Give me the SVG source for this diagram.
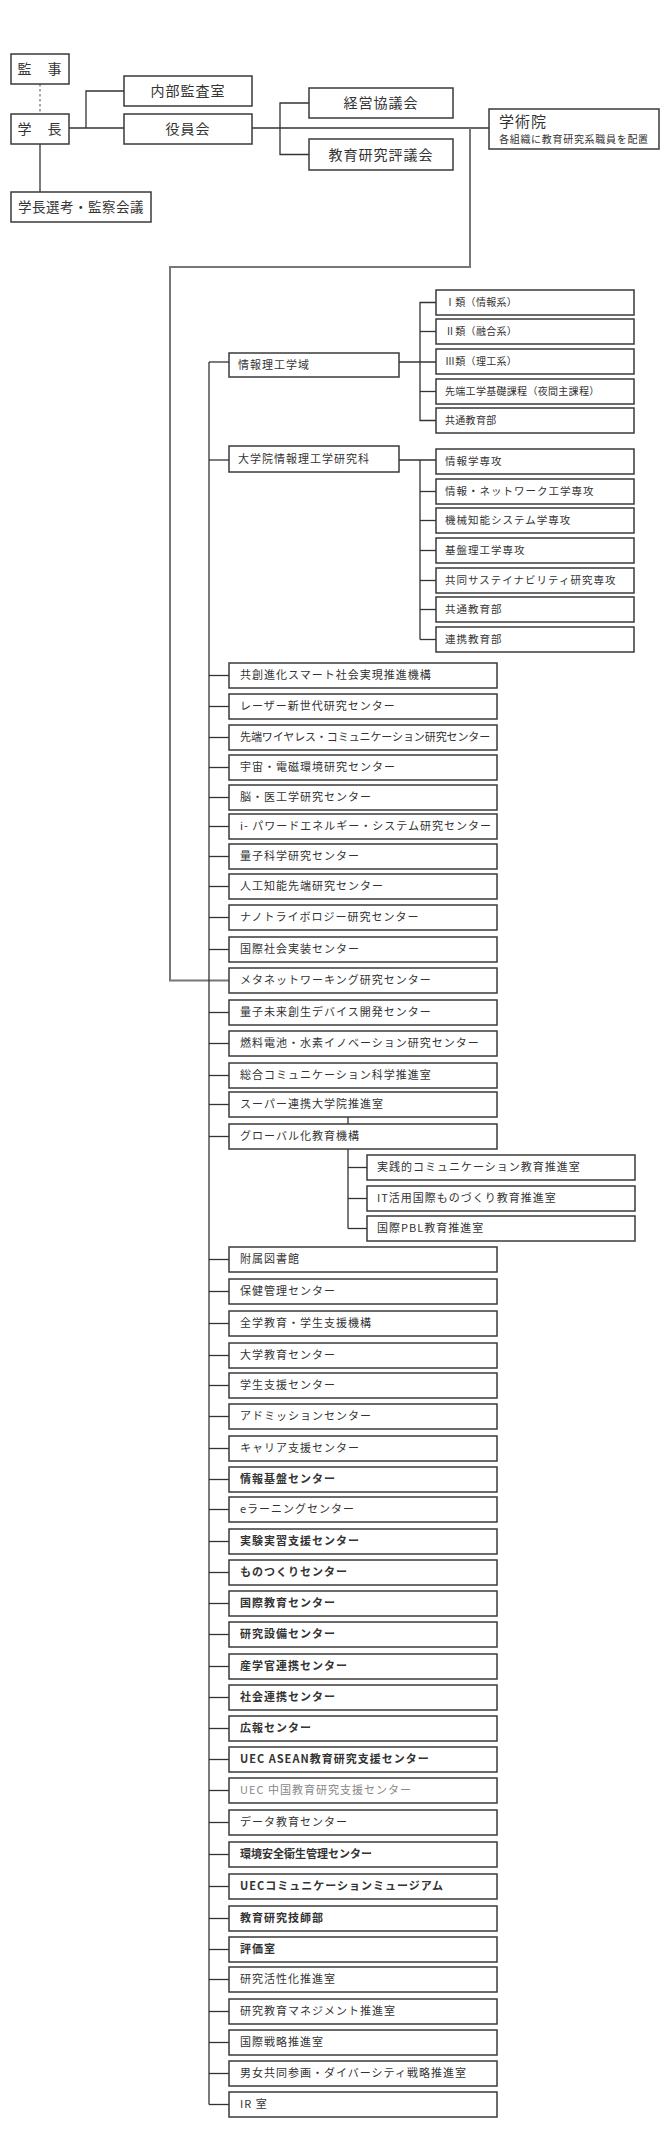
<svg xmlns="http://www.w3.org/2000/svg" width="670" height="2130" viewBox="0 0 670 2130">
<style>
rect.b{fill:#fff;stroke:#3a3a3a;stroke-width:1.5}
.c line,.c polyline{stroke:#333;stroke-width:1.3;fill:none}
.c .g{stroke:#777;stroke-width:2}
text{font-family:"Noto Sans CJK JP","Noto Sans",sans-serif;fill:#333}
.t{font-size:13.5px;letter-spacing:0.5px}
.tc{font-size:14px;letter-spacing:1px;text-anchor:middle}
.m{font-size:11px;letter-spacing:1px}
.s{font-size:10px;letter-spacing:0.3px}
.s2{font-size:10.5px;letter-spacing:1px}
.bd{font-weight:bold}
.lt{fill:#888}
</style>
<rect width="670" height="2130" fill="#fff"/>
<g class="c" id="connectors">
<line x1="40" y1="84" x2="40" y2="114" stroke-dasharray="2.5,2.5" style="stroke:#777"/>
<line x1="69" y1="128" x2="124" y2="128"/>
<polyline points="124,91 86,91 86,128"/>
<line x1="40" y1="144" x2="40" y2="192"/>
<line x1="252" y1="128" x2="489" y2="128"/>
<polyline points="309,103 280,103 280,154.5 309,154.5"/>
<polyline class="g" points="470,128 470,267 170,267 170,980.5 229,980.5"/>
<line x1="209" y1="362" x2="209" y2="2104.5"/>
<line x1="209" y1="362" x2="229" y2="362"/>
<line x1="399" y1="362" x2="436" y2="362"/>
<polyline points="436,302.5 420,302.5 420,420.5 436,420.5"/>
<line x1="420" y1="331.5" x2="436" y2="331.5"/>
<line x1="420" y1="391.5" x2="436" y2="391.5"/>
<line x1="209" y1="460" x2="229" y2="460"/>
<line x1="399" y1="460" x2="436" y2="460"/>
<line x1="420" y1="460" x2="420" y2="639.5"/>
<line x1="420" y1="491.5" x2="436" y2="491.5"/>
<line x1="420" y1="520.5" x2="436" y2="520.5"/>
<line x1="420" y1="550.5" x2="436" y2="550.5"/>
<line x1="420" y1="580.5" x2="436" y2="580.5"/>
<line x1="420" y1="609.5" x2="436" y2="609.5"/>
<line x1="420" y1="639.5" x2="436" y2="639.5"/>
<line x1="348" y1="1117" x2="348" y2="1228.5"/>
<line x1="348" y1="1167.5" x2="367" y2="1167.5"/>
<line x1="348" y1="1198.5" x2="367" y2="1198.5"/>
<line x1="348" y1="1228.5" x2="367" y2="1228.5"/>
<line x1="209" y1="675.5" x2="229" y2="675.5"/>
<line x1="209" y1="706.5" x2="229" y2="706.5"/>
<line x1="209" y1="737.5" x2="229" y2="737.5"/>
<line x1="209" y1="767.5" x2="229" y2="767.5"/>
<line x1="209" y1="797.5" x2="229" y2="797.5"/>
<line x1="209" y1="826.5" x2="229" y2="826.5"/>
<line x1="209" y1="856.5" x2="229" y2="856.5"/>
<line x1="209" y1="886.5" x2="229" y2="886.5"/>
<line x1="209" y1="917.5" x2="229" y2="917.5"/>
<line x1="209" y1="949.5" x2="229" y2="949.5"/>
<line x1="209" y1="1012.5" x2="229" y2="1012.5"/>
<line x1="209" y1="1043.5" x2="229" y2="1043.5"/>
<line x1="209" y1="1075.5" x2="229" y2="1075.5"/>
<line x1="209" y1="1104.5" x2="229" y2="1104.5"/>
<line x1="209" y1="1136.5" x2="229" y2="1136.5"/>
<line x1="209" y1="1259.5" x2="229" y2="1259.5"/>
<line x1="209" y1="1291.5" x2="229" y2="1291.5"/>
<line x1="209" y1="1323.5" x2="229" y2="1323.5"/>
<line x1="209" y1="1355.5" x2="229" y2="1355.5"/>
<line x1="209" y1="1385.5" x2="229" y2="1385.5"/>
<line x1="209" y1="1416.5" x2="229" y2="1416.5"/>
<line x1="209" y1="1448.5" x2="229" y2="1448.5"/>
<line x1="209" y1="1479.5" x2="229" y2="1479.5"/>
<line x1="209" y1="1509.5" x2="229" y2="1509.5"/>
<line x1="209" y1="1541.5" x2="229" y2="1541.5"/>
<line x1="209" y1="1572.5" x2="229" y2="1572.5"/>
<line x1="209" y1="1603.5" x2="229" y2="1603.5"/>
<line x1="209" y1="1634.5" x2="229" y2="1634.5"/>
<line x1="209" y1="1666.5" x2="229" y2="1666.5"/>
<line x1="209" y1="1697.5" x2="229" y2="1697.5"/>
<line x1="209" y1="1728.5" x2="229" y2="1728.5"/>
<line x1="209" y1="1759.5" x2="229" y2="1759.5"/>
<line x1="209" y1="1790.5" x2="229" y2="1790.5"/>
<line x1="209" y1="1822.5" x2="229" y2="1822.5"/>
<line x1="209" y1="1854.5" x2="229" y2="1854.5"/>
<line x1="209" y1="1886.5" x2="229" y2="1886.5"/>
<line x1="209" y1="1918.5" x2="229" y2="1918.5"/>
<line x1="209" y1="1949.5" x2="229" y2="1949.5"/>
<line x1="209" y1="1979.5" x2="229" y2="1979.5"/>
<line x1="209" y1="2011.5" x2="229" y2="2011.5"/>
<line x1="209" y1="2042.5" x2="229" y2="2042.5"/>
<line x1="209" y1="2073.5" x2="229" y2="2073.5"/>
<line x1="209" y1="2104.5" x2="229" y2="2104.5"/>
</g>
<g id="n-kanji"><rect class="b" x="11" y="54" width="58" height="30"/><text class="tc" x="40" y="74">監　事</text></g>
<g id="n-gakucho"><rect class="b" x="11" y="114" width="58" height="30"/><text class="tc" x="40" y="134">学　長</text></g>
<g id="n-naibu"><rect class="b" x="124" y="76" width="128" height="30"/><text class="tc" x="188" y="96">内部監査室</text></g>
<g id="n-yakuin"><rect class="b" x="124" y="114" width="128" height="30"/><text class="tc" x="188" y="134">役員会</text></g>
<g id="n-keiei"><rect class="b" x="309" y="88" width="144" height="30"/><text class="tc" x="381" y="108">経営協議会</text></g>
<g id="n-kyoiku"><rect class="b" x="309" y="139" width="144" height="31"/><text class="tc" x="381" y="160">教育研究評議会</text></g>
<g id="n-gakujutsu"><rect class="b" x="489" y="109" width="170" height="40"/><text x="499" y="127" style="font-size:15px;letter-spacing:1px">学術院</text><text x="499" y="143" style="font-size:10px;letter-spacing:0.7px">各組織に教育研究系職員を配置</text></g>
<g id="n-senko"><rect class="b" x="11" y="192" width="140" height="30"/><text class="t" x="18" y="212">学長選考・監察会議</text></g>

<g id="n-riko"><rect class="b" x="229" y="353" width="170" height="24"/><text class="m" x="238" y="369">情報理工学域</text></g>
<g id="n-r1"><rect class="b" x="436" y="290" width="198" height="25"/><text class="s" x="445" y="306">Ⅰ類（情報系）</text></g>
<g id="n-r2"><rect class="b" x="436" y="319" width="198" height="25"/><text class="s" x="445" y="335">Ⅱ類（融合系）</text></g>
<g id="n-r3"><rect class="b" x="436" y="349" width="198" height="25"/><text class="s" x="445" y="365">Ⅲ類（理工系）</text></g>
<g id="n-r4"><rect class="b" x="436" y="379" width="198" height="25"/><text class="s" x="445" y="395">先端工学基礎課程（夜間主課程）</text></g>
<g id="n-r5"><rect class="b" x="436" y="408" width="198" height="25"/><text class="s" x="445" y="424">共通教育部</text></g>

<g id="n-daigakuin"><rect class="b" x="229" y="446" width="170" height="26"/><text class="m" x="238" y="463">大学院情報理工学研究科</text></g>
<g id="n-d1"><rect class="b" x="436" y="449" width="198" height="25"/><text class="s2" x="445" y="465">情報学専攻</text></g>
<g id="n-d2"><rect class="b" x="436" y="479" width="198" height="25"/><text class="s2" x="445" y="495">情報・ネットワーク工学専攻</text></g>
<g id="n-d3"><rect class="b" x="436" y="508" width="198" height="25"/><text class="s2" x="445" y="524">機械知能システム学専攻</text></g>
<g id="n-d4"><rect class="b" x="436" y="538" width="198" height="25"/><text class="s2" x="445" y="554">基盤理工学専攻</text></g>
<g id="n-d5"><rect class="b" x="436" y="568" width="198" height="25"/><text class="s2" x="445" y="584">共同サステイナビリティ研究専攻</text></g>
<g id="n-d6"><rect class="b" x="436" y="597" width="198" height="25"/><text class="s2" x="445" y="613">共通教育部</text></g>
<g id="n-d7"><rect class="b" x="436" y="627" width="198" height="25"/><text class="s2" x="445" y="643">連携教育部</text></g>

<g id="n-m01"><rect class="b" x="229" y="663" width="268" height="25"/><text class="m" x="240" y="679">共創進化スマート社会実現推進機構</text></g>
<g id="n-m02"><rect class="b" x="229" y="694" width="268" height="25"/><text class="m" x="240" y="710">レーザー新世代研究センター</text></g>
<g id="n-m03"><rect class="b" x="229" y="725" width="268" height="25"/><text class="m" x="240" y="741" style="letter-spacing:-0.1px">先端ワイヤレス・コミュニケーション研究センター</text></g>
<g id="n-m04"><rect class="b" x="229" y="755" width="268" height="25"/><text class="m" x="240" y="771">宇宙・電磁環境研究センター</text></g>
<g id="n-m05"><rect class="b" x="229" y="785" width="268" height="25"/><text class="m" x="240" y="801">脳・医工学研究センター</text></g>
<g id="n-m06"><rect class="b" x="229" y="814" width="268" height="25"/><text class="m" x="240" y="830">i- パワードエネルギー・システム研究センター</text></g>
<g id="n-m07"><rect class="b" x="229" y="844" width="268" height="25"/><text class="m" x="240" y="860">量子科学研究センター</text></g>
<g id="n-m08"><rect class="b" x="229" y="874" width="268" height="25"/><text class="m" x="240" y="890">人工知能先端研究センター</text></g>
<g id="n-m09"><rect class="b" x="229" y="905" width="268" height="25"/><text class="m" x="240" y="921">ナノトライボロジー研究センター</text></g>
<g id="n-m10"><rect class="b" x="229" y="937" width="268" height="25"/><text class="m" x="240" y="953">国際社会実装センター</text></g>
<g id="n-m11"><rect class="b" x="229" y="968" width="268" height="25"/><text class="m" x="240" y="984">メタネットワーキング研究センター</text></g>
<g id="n-m12"><rect class="b" x="229" y="1000" width="268" height="25"/><text class="m" x="240" y="1016">量子未来創生デバイス開発センター</text></g>
<g id="n-m13"><rect class="b" x="229" y="1031" width="268" height="25"/><text class="m" x="240" y="1047">燃料電池・水素イノベーション研究センター</text></g>
<g id="n-m14"><rect class="b" x="229" y="1063" width="268" height="25"/><text class="m" x="240" y="1079">総合コミュニケーション科学推進室</text></g>
<g id="n-m15"><rect class="b" x="229" y="1092" width="268" height="25"/><text class="m" x="240" y="1108">スーパー連携大学院推進室</text></g>
<g id="n-m16"><rect class="b" x="229" y="1124" width="268" height="25"/><text class="m" x="240" y="1140">グローバル化教育機構</text></g>
<g id="n-g1"><rect class="b" x="367" y="1155" width="268" height="25"/><text class="m" x="377" y="1171">実践的コミュニケーション教育推進室</text></g>
<g id="n-g2"><rect class="b" x="367" y="1186" width="268" height="25"/><text class="m" x="377" y="1202">IT活用国際ものづくり教育推進室</text></g>
<g id="n-g3"><rect class="b" x="367" y="1216" width="268" height="25"/><text class="m" x="377" y="1232">国際PBL教育推進室</text></g>
<g id="n-m17"><rect class="b" x="229" y="1247" width="268" height="25"/><text class="m" x="240" y="1263">附属図書館</text></g>
<g id="n-m18"><rect class="b" x="229" y="1279" width="268" height="25"/><text class="m" x="240" y="1295">保健管理センター</text></g>
<g id="n-m19"><rect class="b" x="229" y="1311" width="268" height="25"/><text class="m" x="240" y="1327">全学教育・学生支援機構</text></g>
<g id="n-m20"><rect class="b" x="229" y="1343" width="268" height="25"/><text class="m" x="240" y="1359">大学教育センター</text></g>
<g id="n-m21"><rect class="b" x="229" y="1373" width="268" height="25"/><text class="m" x="240" y="1389">学生支援センター</text></g>
<g id="n-m22"><rect class="b" x="229" y="1404" width="268" height="25"/><text class="m" x="240" y="1420">アドミッションセンター</text></g>
<g id="n-m23"><rect class="b" x="229" y="1436" width="268" height="25"/><text class="m" x="240" y="1452">キャリア支援センター</text></g>
<g id="n-m24"><rect class="b" x="229" y="1467" width="268" height="25"/><text class="m bd" x="240" y="1483">情報基盤センター</text></g>
<g id="n-m25"><rect class="b" x="229" y="1497" width="268" height="25"/><text class="m" x="240" y="1513">eラーニングセンター</text></g>
<g id="n-m26"><rect class="b" x="229" y="1529" width="268" height="25"/><text class="m bd" x="240" y="1545">実験実習支援センター</text></g>
<g id="n-m27"><rect class="b" x="229" y="1560" width="268" height="25"/><text class="m bd" x="240" y="1576">ものつくりセンター</text></g>
<g id="n-m28"><rect class="b" x="229" y="1591" width="268" height="25"/><text class="m bd" x="240" y="1607">国際教育センター</text></g>
<g id="n-m29"><rect class="b" x="229" y="1622" width="268" height="25"/><text class="m bd" x="240" y="1638">研究設備センター</text></g>
<g id="n-m30"><rect class="b" x="229" y="1654" width="268" height="25"/><text class="m bd" x="240" y="1670">産学官連携センター</text></g>
<g id="n-m31"><rect class="b" x="229" y="1685" width="268" height="25"/><text class="m bd" x="240" y="1701">社会連携センター</text></g>
<g id="n-m32"><rect class="b" x="229" y="1716" width="268" height="25"/><text class="m bd" x="240" y="1732">広報センター</text></g>
<g id="n-m33"><rect class="b" x="229" y="1747" width="268" height="25"/><text class="m bd" x="240" y="1763">UEC ASEAN教育研究支援センター</text></g>
<g id="n-m34"><rect class="b" x="229" y="1778" width="268" height="25"/><text class="m lt" x="240" y="1794">UEC 中国教育研究支援センター</text></g>
<g id="n-m35"><rect class="b" x="229" y="1810" width="268" height="25"/><text class="m" x="240" y="1826">データ教育センター</text></g>
<g id="n-m36"><rect class="b" x="229" y="1842" width="268" height="25"/><text class="m bd" x="240" y="1858" style="letter-spacing:0">環境安全衛生管理センター</text></g>
<g id="n-m37"><rect class="b" x="229" y="1874" width="268" height="25"/><text class="m bd" x="240" y="1890">UECコミュニケーションミュージアム</text></g>
<g id="n-m38"><rect class="b" x="229" y="1906" width="268" height="25"/><text class="m bd" x="240" y="1922">教育研究技師部</text></g>
<g id="n-m39"><rect class="b" x="229" y="1937" width="268" height="25"/><text class="m bd" x="240" y="1953">評価室</text></g>
<g id="n-m40"><rect class="b" x="229" y="1967" width="268" height="25"/><text class="m" x="240" y="1983">研究活性化推進室</text></g>
<g id="n-m41"><rect class="b" x="229" y="1999" width="268" height="25"/><text class="m" x="240" y="2015">研究教育マネジメント推進室</text></g>
<g id="n-m42"><rect class="b" x="229" y="2030" width="268" height="25"/><text class="m" x="240" y="2046">国際戦略推進室</text></g>
<g id="n-m43"><rect class="b" x="229" y="2061" width="268" height="25"/><text class="m" x="240" y="2077">男女共同参画・ダイバーシティ戦略推進室</text></g>
<g id="n-m44"><rect class="b" x="229" y="2092" width="268" height="25"/><text class="m" x="240" y="2108">IR 室</text></g>
</svg>
